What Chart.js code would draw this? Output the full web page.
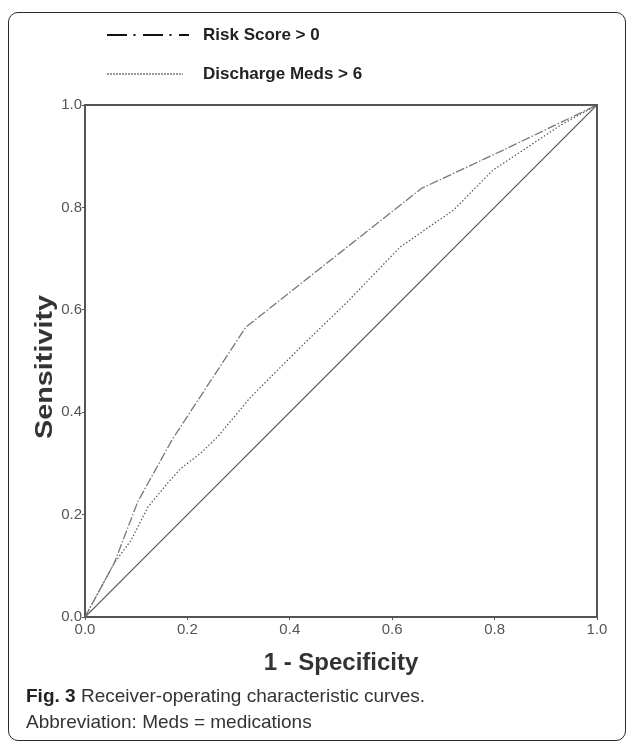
<!DOCTYPE html>
<html>
<head>
<meta charset="utf-8">
<script src="https://cdn.jsdelivr.net/npm/chart.js@4.4.1/dist/chart.umd.min.js"></script>
<style>
  html, body { margin: 0; padding: 0; background: #fff; }
  body { width: 629px; height: 742px; position: relative; overflow: hidden; font-family: "Liberation Sans", Arial, sans-serif; }
  #frame { position: absolute; left: 8px; top: 12px; width: 618px; height: 729px; border: 1.5px solid #2a2a2a; border-radius: 10px; box-sizing: border-box; }
  #wrap { position: absolute; left: 0; top: 0; width: 629px; height: 742px; }
  .leg { position: absolute; left: 105px; height: 20px; }
  .leg svg { position: absolute; left: 0; top: 0; }
  .leg span { position: absolute; left: 98px; top: 0; font-weight: bold; font-size: 17px; line-height: 20px; color: #222; white-space: nowrap; }
  #ytitle { position: absolute; left: 44px; top: 367px; width: 0; height: 0; }
  #ytitle span { position: absolute; left: 0; top: 0; transform: translate(-50%, -50%) rotate(-90deg) scaleX(1.2); font-weight: bold; font-size: 24px; color: #333; white-space: nowrap; line-height: 1; }
  #caption { position: absolute; left: 26px; top: 683px; font-size: 19px; line-height: 26px; color: #333; }
  #caption b { color: #222; }
</style>
</head>
<body>
<div id="frame"></div>
<div id="wrap"><canvas id="c" width="629" height="742"></canvas></div>
<div class="leg" id="leg1" style="top:25px"></div>
<div class="leg" id="leg2" style="top:64px"></div>
<div id="ytitle"><span id="ytitleText"></span></div>
<div id="caption"><b>Fig. 3</b> Receiver-operating characteristic curves.<br>Abbreviation: Meds = medications</div>
<script>
// ---- data ----
const seriesNames = ["Risk Score > 0", "Discharge Meds > 6"];
const riskX = [0, 0.057, 0.103, 0.17, 0.314, 0.657, 0.817, 1];
const riskY = [0, 0.105, 0.225, 0.346, 0.566, 0.837, 0.912, 1];
const medsX = [0, 0.057, 0.09, 0.123, 0.16, 0.187, 0.226, 0.259, 0.324, 0.421, 0.512, 0.616, 0.72, 0.797, 0.856, 0.928, 1];
const medsY = [0, 0.105, 0.15, 0.215, 0.26, 0.29, 0.32, 0.352, 0.43, 0.527, 0.615, 0.723, 0.795, 0.873, 0.912, 0.96, 1];
const refX = [0, 1];
const refY = [0, 1];
const tickValues = [0, 0.2, 0.4, 0.6, 0.8, 1.0];
const xTitle = "1 - Specificity";
const yTitle = "Sensitivity";

const pts = (xs, ys) => xs.map((x, i) => ({ x: x, y: ys[i] }));

// ---- HTML legend (line samples + text) ----
const legStyles = [
  { dash: "20 6.5 2 7.5", width: 2, color: "#111" },
  { dash: "2 1", width: 1, color: "#333" }
];
["leg1", "leg2"].forEach((id, i) => {
  const el = document.getElementById(id);
  const s = legStyles[i];
  el.innerHTML = '<svg width="90" height="20"><line x1="2" y1="10" x2="' + (i === 0 ? 84 : 78) + '" y2="10" stroke="' + s.color +
    '" stroke-width="' + s.width + '" stroke-dasharray="' + s.dash + '"/></svg><span>' + seriesNames[i] + '</span>';
});
document.getElementById("ytitleText").textContent = yTitle;

const font = "'Liberation Sans', Arial, sans-serif";
const axisColor = "#555";

function fixW(w) { return function (s) { s.width = w; }; }
function fixH(h) { return function (s) { s.height = h; }; }

new Chart(document.getElementById("c"), {
  type: "line",
  data: {
    datasets: [
      { label: seriesNames[0], data: pts(riskX, riskY), borderColor: "#777", borderWidth: 1.3, borderDash: [9, 2, 1.5, 2], pointRadius: 0, tension: 0, fill: false },
      { label: seriesNames[1], data: pts(medsX, medsY), borderColor: "#555", borderWidth: 1.2, borderDash: [1.5, 2], pointRadius: 0, tension: 0, fill: false },
      { label: "Reference", data: pts(refX, refY), borderColor: "#555", borderWidth: 1.2, pointRadius: 0, tension: 0, fill: false }
    ]
  },
  options: {
    responsive: false,
    animation: false,
    layout: { padding: { left: 0, right: 32, top: 105, bottom: 64 } },
    plugins: { legend: { display: false }, tooltip: { enabled: false } },
    scales: {
      x: {
        type: "linear", position: "bottom", min: 0, max: 1,
        afterFit: fixH(61),
        afterBuildTicks: function (s) { s.ticks = tickValues.map(v => ({ value: v })); },
        ticks: { color: "#555", font: { family: font, size: 15 }, padding: 1, maxRotation: 0, callback: v => v.toFixed(1) },
        grid: { display: true, drawOnChartArea: false, drawTicks: true, tickLength: 3, color: axisColor, lineWidth: 1 },
        border: { display: true, color: axisColor, width: 2 },
        title: { display: true, text: xTitle, color: "#333", font: { family: font, size: 24, weight: "bold" }, padding: { top: 4, bottom: 0 } }
      },
      y: {
        type: "linear", position: "left", min: 0, max: 1,
        afterFit: fixW(85),
        afterBuildTicks: function (s) { s.ticks = tickValues.map(v => ({ value: v })); },
        ticks: { color: "#555", font: { family: font, size: 15 }, padding: 0, callback: v => v.toFixed(1) },
        grid: { display: true, drawOnChartArea: false, drawTicks: true, tickLength: 3, color: axisColor, lineWidth: 1 },
        border: { display: true, color: axisColor, width: 2 },
        title: { display: false }
      },
      x2: {
        type: "linear", position: "top", min: 0, max: 1, afterFit: fixH(0),
        ticks: { display: false }, grid: { display: false }, border: { display: true, color: axisColor, width: 2 }
      },
      y2: {
        type: "linear", position: "right", min: 0, max: 1, afterFit: fixW(0),
        ticks: { display: false }, grid: { display: false }, border: { display: true, color: axisColor, width: 2 }
      }
    }
  }
});
</script>
</body>
</html>
